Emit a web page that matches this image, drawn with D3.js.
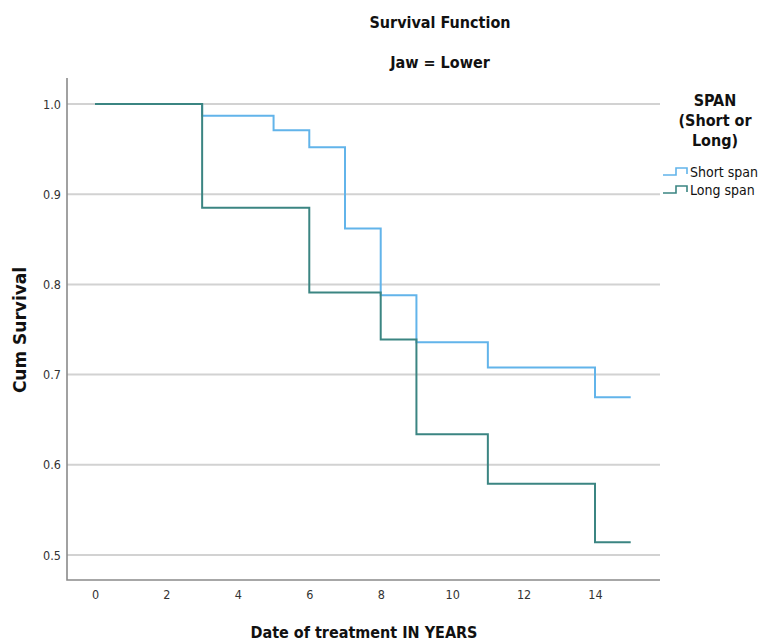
<!DOCTYPE html>
<html>
<head>
<meta charset="utf-8">
<script src="https://cdn.jsdelivr.net/npm/d3@7"></script>
<style>
    body { margin: 0; background: #fff; }
    svg { display: block; }
</style>
</head>
<body>
<div id="chart"></div>
<script>
// data (Kaplan-Meier steps)
const shortTimes = [0, 3, 5, 6, 7, 8, 9, 11, 14, 15];
const shortSurv = [1.0, 0.987, 0.971, 0.952, 0.862, 0.788, 0.736, 0.708, 0.675, 0.675];
const longTimes = [0, 3, 6, 8, 9, 11, 14, 15];
const longSurv = [1.0, 0.885, 0.791, 0.739, 0.634, 0.579, 0.514, 0.514];
const xTickValues = [0, 2, 4, 6, 8, 10, 12, 14];
const yTickValues = [0.5, 0.6, 0.7, 0.8, 0.9, 1.0];
const seriesNames = ["Short span", "Long span"];
const seriesColors = ["#62b4ea", "#3b8582"];

const width = 763, height = 641;
const condensed = "'DejaVu Sans Condensed', 'DejaVu Sans', sans-serif";

// plot frame
const frame = { left: 67, right: 660, top: 78, bottom: 580 };

const svg = d3.select("#chart")
    .append("svg")
    .attr("width", width)
    .attr("height", height);

const x = d3.scaleLinear().domain([0, 14]).range([95, 595]);
const y = d3.scaleLinear().domain([0.5, 1.0]).range([555, 104]);

// gridlines
svg.append("g")
    .selectAll("line")
    .data(yTickValues)
    .join("line")
    .attr("x1", frame.left)
    .attr("x2", frame.right)
    .attr("y1", d => y(d))
    .attr("y2", d => y(d))
    .attr("stroke", "#d2d2d2")
    .attr("stroke-width", 2);

// axes
const yAxis = svg.append("g")
    .attr("transform", `translate(${frame.left},0)`)
    .call(d3.axisLeft(y).tickValues(yTickValues).tickFormat(d3.format(".1f")).tickSize(0).tickPadding(6));
yAxis.select(".domain").remove();
yAxis.selectAll("text")
    .attr("font-family", condensed)
    .attr("font-size", 12.5)
    .attr("fill", "#333");

const xAxis = svg.append("g")
    .attr("transform", `translate(0,${frame.bottom})`)
    .call(d3.axisBottom(x).tickValues(xTickValues).tickFormat(d3.format("d")).tickSize(0).tickPadding(10));
xAxis.select(".domain").remove();
xAxis.selectAll("text")
    .attr("font-family", condensed)
    .attr("font-size", 12.5)
    .attr("fill", "#333");

svg.append("path")
    .attr("d", `M${frame.left},${frame.top}V${frame.bottom}H${frame.right}`)
    .attr("fill", "none")
    .attr("stroke", "#8a8a8a")
    .attr("stroke-width", 1.6);

// survival step lines
const line = d3.line()
    .x(d => x(d[0]))
    .y(d => y(d[1]))
    .curve(d3.curveStepAfter);

const series = [
    d3.zip(shortTimes, shortSurv),
    d3.zip(longTimes, longSurv)
];

svg.append("g")
    .selectAll("path")
    .data(series)
    .join("path")
    .attr("d", line)
    .attr("fill", "none")
    .attr("stroke", (d, i) => seriesColors[i])
    .attr("stroke-width", 2);

// titles
svg.append("text")
    .attr("x", 440).attr("y", 28)
    .attr("text-anchor", "middle")
    .attr("font-family", condensed)
    .attr("font-weight", "bold")
    .attr("font-size", 16)
    .attr("fill", "#111")
    .text("Survival Function");

svg.append("text")
    .attr("x", 440).attr("y", 68)
    .attr("text-anchor", "middle")
    .attr("font-family", condensed)
    .attr("font-weight", "bold")
    .attr("font-size", 16)
    .attr("fill", "#111")
    .text("Jaw = Lower");

svg.append("text")
    .attr("transform", "translate(26,330) rotate(-90)")
    .attr("text-anchor", "middle")
    .attr("font-family", "'DejaVu Sans', sans-serif")
    .attr("font-weight", "bold")
    .attr("font-size", 17)
    .attr("fill", "#111")
    .text("Cum Survival");

svg.append("text")
    .attr("x", 364).attr("y", 638)
    .attr("text-anchor", "middle")
    .attr("font-family", condensed)
    .attr("font-weight", "bold")
    .attr("font-size", 16)
    .attr("fill", "#111")
    .text("Date of treatment IN YEARS");

// legend
const legendTitle = ["SPAN", "(Short or", "Long)"];
svg.append("g")
    .selectAll("text")
    .data(legendTitle)
    .join("text")
    .attr("x", 715)
    .attr("y", (d, i) => 106 + i * 20)
    .attr("text-anchor", "middle")
    .attr("font-family", condensed)
    .attr("font-weight", "bold")
    .attr("font-size", 16)
    .attr("fill", "#111")
    .text(d => d);

const legendItems = svg.append("g")
    .selectAll("g")
    .data(seriesNames)
    .join("g")
    .attr("transform", (d, i) => `translate(663,${175 + i * 18})`);

legendItems.append("path")
    .attr("d", "M0,0H13V-7H24V-1")
    .attr("fill", "none")
    .attr("stroke", (d, i) => seriesColors[i])
    .attr("stroke-width", 1.6);

legendItems.append("text")
    .attr("x", 27)
    .attr("y", 2)
    .attr("font-family", condensed)
    .attr("font-size", 14)
    .attr("fill", "#111")
    .text(d => d);
</script>
</body>
</html>
